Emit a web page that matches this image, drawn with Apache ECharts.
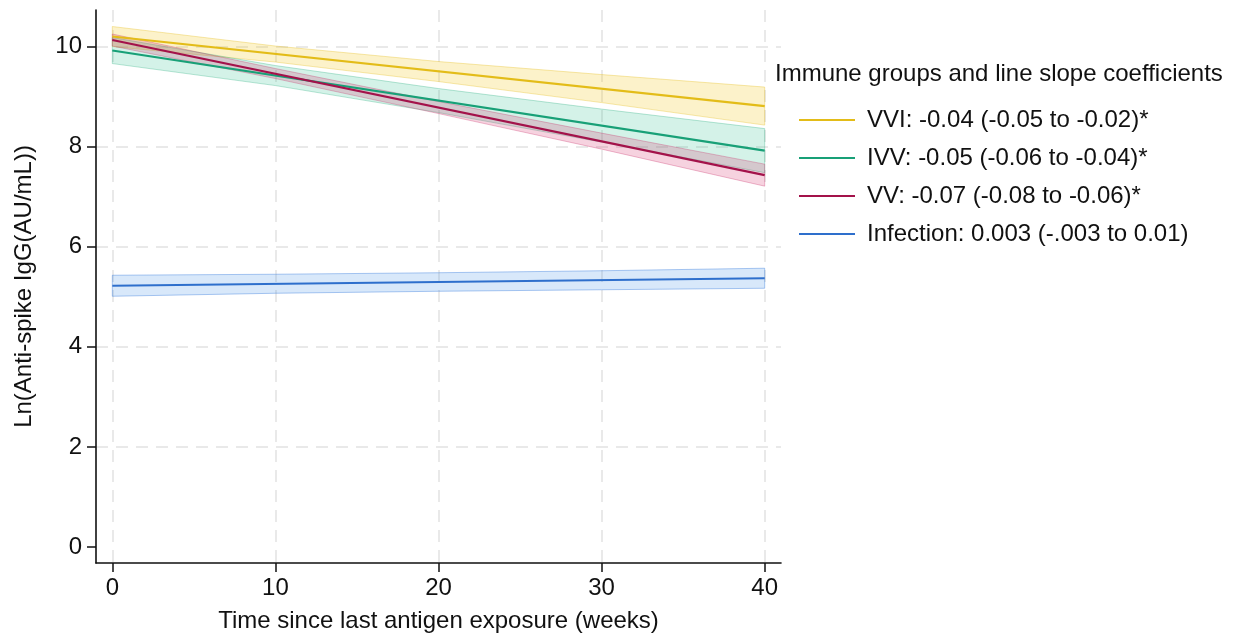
<!DOCTYPE html>
<html>
<head>
<meta charset="utf-8">
<script src="https://cdn.jsdelivr.net/npm/echarts@6/dist/echarts.min.js"></script>
<style>
  html, body { margin: 0; padding: 0; background: #ffffff; }
  #chart { width: 1250px; height: 639px; }
</style>
</head>
<body>
<div id="chart"></div>
<script>
// ---- data ----
// fitted lines (straight): values at the two ends
const fitWeeks = [0, 40];
const vviFit = [10.20, 8.81];
const ivvFit = [9.92, 7.92];
const vvFit  = [10.13, 7.43];
const infFit = [5.22, 5.37];

// confidence bands (slightly curved): values read every 10 weeks
const bandWeeks = [0, 10, 20, 30, 40];
const vviHigh = [10.40, 10.01, 9.70, 9.44, 9.19];
const vviLow  = [10.00, 9.69, 9.30, 8.88, 8.43];
const ivvHigh = [10.18, 9.62, 9.16, 8.75, 8.36];
const ivvLow  = [9.66, 9.22, 8.68, 8.09, 7.48];
const vvHigh  = [10.25, 9.56, 8.90, 8.27, 7.65];
const vvLow   = [10.01, 9.36, 8.66, 7.95, 7.21];
const infHigh = [5.43, 5.45, 5.48, 5.52, 5.57];
const infLow  = [5.01, 5.07, 5.11, 5.14, 5.17];

const groupLabels = [
  'VVI: -0.04 (-0.05 to -0.02)*',
  'IVV: -0.05 (-0.06 to -0.04)*',
  'VV: -0.07 (-0.08 to -0.06)*',
  'Infection: 0.003 (-.003 to 0.01)'
];
const legendTitle = 'Immune groups and line slope coefficients';
const xTicks = [0, 10, 20, 30, 40];
const yTicks = [0, 2, 4, 6, 8, 10];
const yGridTicks = [2, 4, 6, 8, 10];
const xTitle = 'Time since last antigen exposure (weeks)';
const yTitle = 'Ln(Anti-spike IgG(AU/mL))';

// ---- styling ----
const FONT = 'Liberation Sans, Arial, Helvetica, sans-serif';
const lineColors = ['#E3BC18', '#18A077', '#A3124A', '#2E6FCC'];
const bandFills = ['rgba(244,206,50,0.26)', 'rgba(40,190,140,0.20)', 'rgba(214,50,110,0.22)', 'rgba(60,140,230,0.20)'];
const bandStrokes = ['rgba(230,190,30,0.35)', 'rgba(30,170,120,0.30)', 'rgba(200,40,100,0.30)', 'rgba(50,120,220,0.40)'];
const gridLine = { color: '#e2e2e2', width: 1.5, type: [12, 8] };

function bandSeries(low, high, idx) {
  return {
    type: 'custom',
    silent: true,
    z: 1,
    renderItem: function (params, api) {
      const pts = [];
      for (let i = 0; i < bandWeeks.length; i++) pts.push(api.coord([bandWeeks[i], high[i]]));
      for (let i = bandWeeks.length - 1; i >= 0; i--) pts.push(api.coord([bandWeeks[i], low[i]]));
      return {
        type: 'polygon',
        shape: { points: pts },
        style: { fill: bandFills[idx], stroke: bandStrokes[idx], lineWidth: 1 }
      };
    },
    data: [[bandWeeks[0], low[0]]]
  };
}

function lineSeries(fit, idx) {
  return {
    type: 'line',
    name: groupLabels[idx],
    symbol: 'none',
    z: 3,
    lineStyle: { color: lineColors[idx], width: 2.2 },
    itemStyle: { color: lineColors[idx] },
    data: fitWeeks.map((w, i) => [w, fit[i]])
  };
}

const chart = echarts.init(document.getElementById('chart'), null, { renderer: 'canvas' });

chart.setOption({
  animation: false,
  backgroundColor: '#ffffff',
  textStyle: { fontFamily: FONT },
  grid: { left: 96, right: 469, top: 10, bottom: 76, containLabel: false },
  title: {
    text: legendTitle,
    left: 775, top: 62, padding: 0,
    textStyle: { fontFamily: FONT, fontSize: 24, fontWeight: 'normal', color: '#111' }
  },
  legend: {
    orient: 'vertical',
    left: 799, top: 108,
    padding: 0,
    itemGap: 14,
    itemWidth: 56, itemHeight: 2,
    icon: 'rect',
    data: groupLabels,
    selectedMode: false,
    textStyle: { fontFamily: FONT, fontSize: 24, color: '#111', lineHeight: 24, padding: [0, 0, 0, 7] }
  },
  xAxis: {
    type: 'value',
    min: -1, max: 41,
    name: xTitle,
    nameLocation: 'middle',
    nameGap: 46,
    nameTextStyle: { fontFamily: FONT, fontSize: 24, color: '#111' },
    axisLine: { show: true, onZero: false, lineStyle: { color: '#111', width: 1.6 } },
    axisTick: { show: true, length: 9, customValues: xTicks, lineStyle: { color: '#111', width: 1.5 } },
    axisLabel: { customValues: xTicks, margin: 13, fontFamily: FONT, fontSize: 24, color: '#111' },
    splitLine: { show: true, lineStyle: gridLine }
  },
  yAxis: [{
    type: 'value',
    min: -0.32, max: 10.73,
    name: yTitle,
    nameLocation: 'middle',
    nameRotate: 90,
    nameGap: 60,
    nameTextStyle: { fontFamily: FONT, fontSize: 24, color: '#111' },
    axisLine: { show: true, onZero: false, lineStyle: { color: '#111', width: 1.6 } },
    axisTick: { show: true, length: 9, customValues: yTicks, lineStyle: { color: '#111', width: 1.5 } },
    axisLabel: { customValues: yTicks, margin: 14, fontFamily: FONT, fontSize: 24, color: '#111' },
    splitLine: { show: false }
  }, {
    type: 'value',
    min: -0.32, max: 10.73,
    position: 'left',
    axisLine: { show: false, onZero: false },
    axisTick: { show: false, customValues: yGridTicks },
    axisLabel: { show: false, customValues: yGridTicks },
    splitLine: { show: true, lineStyle: gridLine }
  }],
  series: [
    bandSeries(infLow, infHigh, 3),
    bandSeries(vviLow, vviHigh, 0),
    bandSeries(ivvLow, ivvHigh, 1),
    bandSeries(vvLow, vvHigh, 2),
    lineSeries(infFit, 3),
    lineSeries(vviFit, 0),
    lineSeries(ivvFit, 1),
    lineSeries(vvFit, 2)
  ]
});
</script>
</body>
</html>
